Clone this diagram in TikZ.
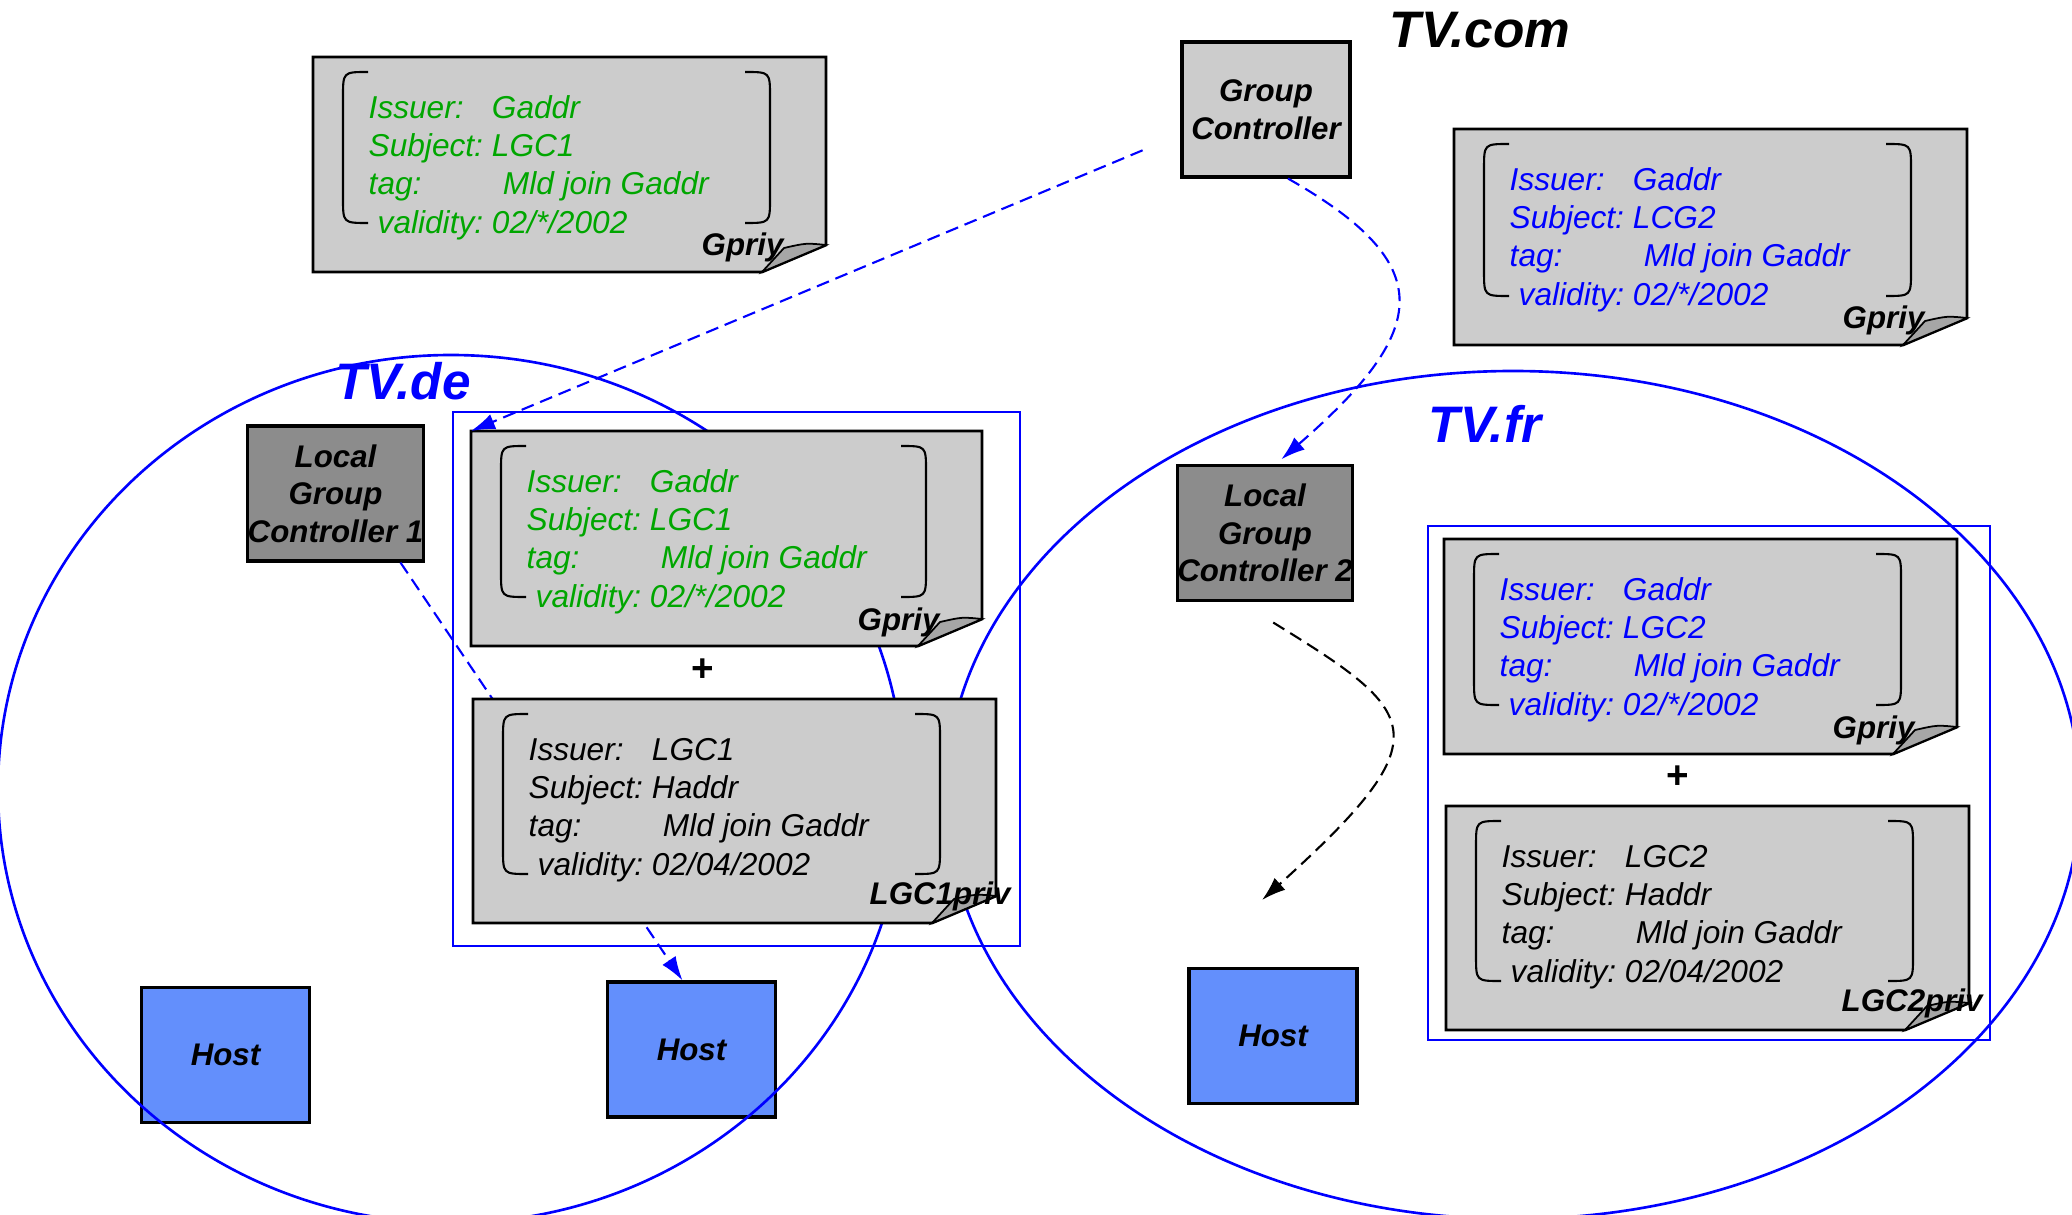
\documentclass[tikz,border=0pt]{standalone}
\usepackage{fontspec}
\setmainfont{Liberation Sans}
\usetikzlibrary{arrows.meta}

\definecolor{certgray}{RGB}{204,204,204}
\definecolor{foldgray}{RGB}{166,166,166}
\definecolor{ctrlgray}{RGB}{140,140,140}
\definecolor{hostblue}{RGB}{99,143,252}
\definecolor{certgreen}{RGB}{0,166,0}

\tikzset{
  box/.style={draw=black, line width=0.9pt, minimum width=16.8mm, minimum height=13.5mm,
    inner sep=0pt, align=center, font=\fontsize{8.9}{10.7}\selectfont\bfseries\itshape},
  ctrl/.style={box, fill=ctrlgray},
  gctrl/.style={box, fill=certgray},
  host/.style={box, fill=hostblue},
  tvzone/.style={draw=blue, line width=0.75pt},
  title/.style={inner sep=0pt, font=\fontsize{14.6}{16}\selectfont\bfseries\itshape},
  certtext/.style={inner sep=0pt, anchor=west, font=\fontsize{9}{10.9}\selectfont\itshape},
  keyname/.style={inner sep=0pt, anchor=base west, font=\fontsize{8.9}{10.7}\selectfont\bfseries\itshape},
  plus/.style={inner sep=0pt, font=\fontsize{11}{12}\selectfont\bfseries},
  link/.style={dashed, line width=0.6pt, dash pattern=on 1.3mm off 0.7mm,
    -{Latex[length=2.4mm,width=1.6mm]}},
}

\newcommand\certbox[4]{%
  \filldraw[line width=0.8pt, fill=certgray] (#1,#2) -- (#3,#2) -- (#3,{#4-27})
    -- ({#3-64},#4) -- (#1,#4) -- cycle;
  \filldraw[line width=0.5pt, fill=foldgray] ({#3-64},#4) -- ({#3-42},{#4-24})
    .. controls ({#3-20},{#4-29}) .. (#3,{#4-27}) -- cycle;
  \draw[line width=0.6pt] ({#1+55},{#2+15}) .. controls ({#1+30},{#2+15}) .. ({#1+30},{#2+40})
    -- ({#1+30},{#4-74}) .. controls ({#1+30},{#4-49}) .. ({#1+55},{#4-49});
  \draw[line width=0.6pt] ({#3-81},{#2+15}) .. controls ({#3-56},{#2+15}) .. ({#3-56},{#2+40})
    -- ({#3-56},{#4-74}) .. controls ({#3-56},{#4-49}) .. ({#3-81},{#4-49});
}
\newcommand\certlines[3]{\begin{tabular}{@{}l@{}l@{}}
  Issuer: & #1\\
  \mbox{Subject:\ } & #2\\
  tag: & \hspace{1.1mm}Mld join Gaddr\\
  \mbox{\hspace{0.9mm}validity:\ } & #3
\end{tabular}}

\begin{document}
\begin{tikzpicture}[x=0.1mm, y=-0.1mm]
    \useasboundingbox (0,0) rectangle (2072,1215);

    \node[host] (hosta) at (225.5,1055) {Host};
    \node[host] (hostb) at (691.5,1049.5) {Host};
    \node[host] (hostc) at (1273,1036) {Host};

    \draw[tvzone] (451,789) ellipse [x radius=453, y radius=434];
    \draw[tvzone] (1513,795) ellipse [x radius=567, y radius=424];
    \draw[tvzone] (453,412) rectangle (1020,946);
    \draw[tvzone] (1428,526) rectangle (1990,1040);

    \node[gctrl] (gctrl) at (1266,109.5) {Group\\Controller};
    \node[ctrl] (lgcone) at (335.5,493.5) {Local\\Group\\Controller 1};
    \node[ctrl] (lgctwo) at (1265,533) {Local\\Group\\Controller 2};

    \draw[link, blue] ([xshift=6.5mm]lgcone.south) -- ([xshift=-0.9mm]hostb.north);

    \certbox{313}{57}{826}{272}
    \node[certtext, text=certgreen] (txta) at (368,168) {\certlines{Gaddr}{LGC1}{02/*/2002}};
    \node[keyname] (kya) at (701,256) {Gpriy};

    \certbox{1454}{129}{1967}{345}
    \node[certtext, text=blue] (txtb) at (1509,240) {\certlines{Gaddr}{LCG2}{02/*/2002}};
    \node[keyname] (kyb) at (1842,329) {Gpriy};

    \certbox{471}{431}{982}{646}
    \node[certtext, text=certgreen] (txtc) at (526,542) {\certlines{Gaddr}{LGC1}{02/*/2002}};
    \node[keyname] (kyc) at (857,630) {Gpriy};
    \coordinate (cornerc) at (471,431);

    \certbox{473}{699}{996}{923}
    \node[certtext] (txtd) at (528,810) {\certlines{LGC1}{Haddr}{02/04/2002}};
    \node[keyname] (kyd) at (869,904) {LGC1priv};

    \certbox{1444}{539}{1957}{754}
    \node[certtext, text=blue] (txte) at (1499,650) {\certlines{Gaddr}{LGC2}{02/*/2002}};
    \node[keyname] (kye) at (1832,738) {Gpriy};

    \certbox{1446}{806}{1969}{1030}
    \node[certtext] (txtf) at (1501,917) {\certlines{LGC2}{Haddr}{02/04/2002}};
    \node[keyname] (kyf) at (1841,1011) {LGC2priv};

    \node[plus] (plusa) at (703,670) {+};
    \node[plus] (plusb) at (1678,777) {+};

    \node[title] (tvcom) at (1480,30) {TV.com};
    \node[title, text=blue] (tvde) at (403,381) {TV.de};
    \node[title, text=blue] (tvfr) at (1485,424) {TV.fr};

    \draw[link, blue, shorten <=4.1mm] ([yshift=-2.5mm]gctrl.west) -- (cornerc);
    \draw[link, blue, shorten >=0.7mm] ([xshift=2.2mm]gctrl.south)
        .. controls (1440,265) and (1430,330) .. ([xshift=1.1mm]lgctwo.north);
    \coordinate (hostward) at (1262,900);
    \draw[link, shorten <=3.9mm] ([xshift=-2.5mm]lgctwo.south)
        .. controls (1420,713) and (1445,735) .. (hostward);
\end{tikzpicture}
\end{document}
